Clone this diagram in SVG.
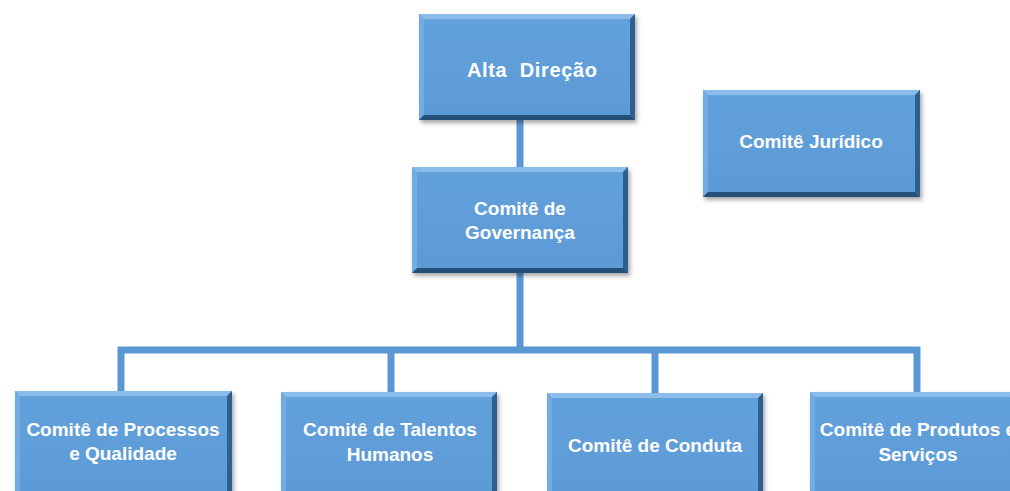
<svg xmlns="http://www.w3.org/2000/svg" width="1010" height="491" viewBox="0 0 1010 491">
<defs>
<filter id="sh" x="-10%" y="-10%" width="125%" height="130%">
<feDropShadow dx="2" dy="3" stdDeviation="2" flood-color="#000" flood-opacity="0.35"/>
</filter>
<linearGradient id="face" x1="0" y1="0" x2="0" y2="1">
<stop offset="0" stop-color="#62a1db"/>
<stop offset="1" stop-color="#5c9ad6"/>
</linearGradient>
</defs>
<style>
.box{fill:url(#face);}
.bt{fill:#8cbdea;}
.bl{fill:#72ace2;}
.br{fill:#2f5f8e;}
.bb{fill:#264f78;}
.t{font-family:"Liberation Sans",Arial,sans-serif;font-size:19px;font-weight:bold;fill:#fff;text-anchor:middle;}
.c{stroke:#5b97d3;stroke-width:7;fill:none;}
</style>
<rect width="1010" height="491" fill="#fff"/>
<g id="connectors">
<line class="c" x1="520" y1="118" x2="520" y2="170"/>
<line class="c" x1="520" y1="270" x2="520" y2="350"/>
<polyline class="c" points="121,393 121,350 917,350 917,393"/>
<line class="c" x1="391" y1="350" x2="391" y2="394"/>
<line class="c" x1="655" y1="350" x2="655" y2="395"/>
</g>
<g id="alta">
<g filter="url(#sh)">
<rect x="419" y="14" width="216" height="106" class="box"/>
<polygon class="bt" points="419,14 635,14 630,19 424,19"/>
<polygon class="bl" points="419,14 424,19 424,115 419,120"/>
<polygon class="br" points="635,14 635,120 630,115 630,19"/>
<polygon class="bb" points="419,120 635,120 630,115 424,115"/>
</g>
<text class="t" x="532" y="77" style="font-size:20px" textLength="130" xml:space="preserve">Alta  Direção</text>
</g>
<g id="juridico">
<g filter="url(#sh)">
<rect x="703" y="90" width="217" height="107" class="box"/>
<polygon class="bt" points="703,90 920,90 915,95 708,95"/>
<polygon class="bl" points="703,90 708,95 708,192 703,197"/>
<polygon class="br" points="920,90 920,197 915,192 915,95"/>
<polygon class="bb" points="703,197 920,197 915,192 708,192"/>
</g>
<text class="t" x="811" y="148">Comitê Jurídico</text>
</g>
<g id="governanca">
<g filter="url(#sh)">
<rect x="412" y="167" width="216" height="106" class="box"/>
<polygon class="bt" points="412,167 628,167 623,172 417,172"/>
<polygon class="bl" points="412,167 417,172 417,268 412,273"/>
<polygon class="br" points="628,167 628,273 623,268 623,172"/>
<polygon class="bb" points="412,273 628,273 623,268 417,268"/>
</g>
<text class="t" x="520" y="215">Comitê de</text>
<text class="t" x="520" y="239">Governança</text>
</g>
<g id="processos">
<g filter="url(#sh)">
<rect x="15" y="391" width="217" height="110" class="box"/>
<polygon class="bt" points="15,391 232,391 227,396 20,396"/>
<polygon class="bl" points="15,391 20,396 20,501 15,501"/>
<polygon class="br" points="232,391 232,501 227,501 227,396"/>
</g>
<text class="t" x="123" y="436">Comitê de Processos</text>
<text class="t" x="123" y="460">e Qualidade</text>
</g>
<g id="talentos">
<g filter="url(#sh)">
<rect x="281" y="392" width="216" height="110" class="box"/>
<polygon class="bt" points="281,392 497,392 492,397 286,397"/>
<polygon class="bl" points="281,392 286,397 286,502 281,502"/>
<polygon class="br" points="497,392 497,502 492,502 492,397"/>
</g>
<text class="t" x="390" y="436">Comitê de Talentos</text>
<text class="t" x="390" y="461">Humanos</text>
</g>
<g id="conduta">
<g filter="url(#sh)">
<rect x="547" y="393" width="216" height="110" class="box"/>
<polygon class="bt" points="547,393 763,393 758,398 552,398"/>
<polygon class="bl" points="547,393 552,398 552,503 547,503"/>
<polygon class="br" points="763,393 763,503 758,503 758,398"/>
</g>
<text class="t" x="655" y="452">Comitê de Conduta</text>
</g>
<g id="produtos">
<g filter="url(#sh)">
<rect x="810" y="392" width="216" height="110" class="box"/>
<polygon class="bt" points="810,392 1026,392 1021,397 815,397"/>
<polygon class="bl" points="810,392 815,397 815,502 810,502"/>
</g>
<text class="t" x="918" y="436">Comitê de Produtos e</text>
<text class="t" x="918" y="461">Serviços</text>
</g>
</svg>
